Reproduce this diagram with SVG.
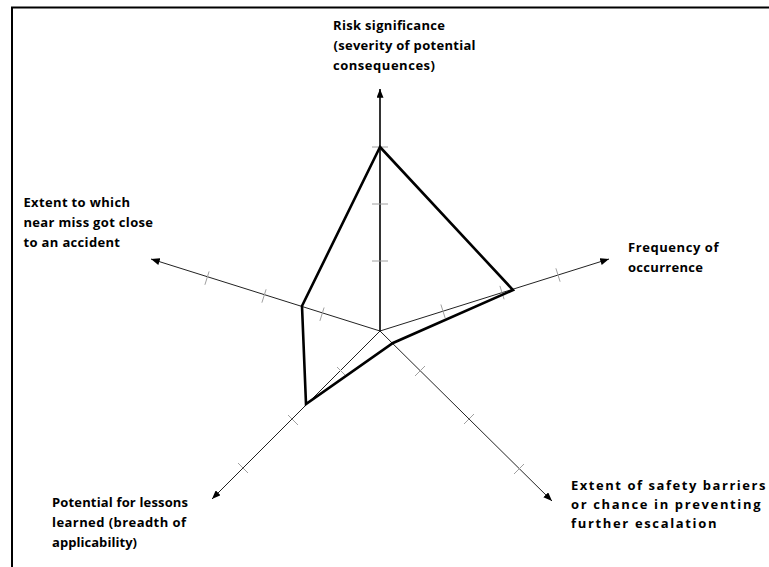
<svg xmlns="http://www.w3.org/2000/svg" width="769" height="567" viewBox="0 0 769 567">
  <defs>
    <marker id="arrow" viewBox="0 0 10 8" refX="10" refY="4" markerWidth="9" markerHeight="7" markerUnits="userSpaceOnUse" orient="auto">
      <path d="M0,0 L10,4 L0,8 Z" fill="#000"/>
    </marker>
    <style>
      .frame { fill: none; stroke: #000; stroke-width: 2; }
      .axis { fill: none; stroke: #222; stroke-width: 1; marker-end: url(#arrow); }
      .axis-main { fill: none; stroke: #000; stroke-width: 1.6; marker-end: url(#arrow); }
      .tick { stroke: #a0a0a0; stroke-width: 1; }
      .profile { fill: none; stroke: #000; stroke-width: 2.6; stroke-linejoin: miter; }
      .label { font-family: "Open Sans", "Liberation Sans", Arial, sans-serif; font-size: 13px; font-weight: bold; fill: #000; }
    </style>
  </defs>

  <rect width="769" height="567" fill="#fff"/>
  <!-- frame (only top and left edges fall inside the canvas) -->
  <path class="frame" d="M12,568 V7.5 H770"/>

  <!-- radar axes, centred at (380,331) -->
  <g id="connectors">
    <line class="axis-main" x1="380" y1="331" x2="380" y2="89"/>
    <line class="axis" x1="380" y1="331" x2="609" y2="259"/>
    <line class="axis" x1="380" y1="331" x2="552" y2="501"/>
    <line class="axis" x1="380" y1="331" x2="212" y2="499"/>
    <line class="axis" x1="380" y1="331" x2="151" y2="259"/>

    <!-- scale ticks -->
    <g class="tick-marks">
      <line class="tick" x1="372" y1="147" x2="388" y2="147"/>
      <line class="tick" x1="372" y1="204" x2="388" y2="204"/>
      <line class="tick" x1="372" y1="261" x2="388" y2="261"/>

      <line class="tick" x1="440.9" y1="304.5" x2="445.1" y2="317.9"/>
      <line class="tick" x1="499.9" y1="285.9" x2="504.1" y2="299.3"/>
      <line class="tick" x1="555.9" y1="268.3" x2="560.1" y2="281.7"/>

      <line class="tick" x1="425" y1="366" x2="415" y2="376"/>
      <line class="tick" x1="474" y1="414" x2="464" y2="424"/>
      <line class="tick" x1="524" y1="464" x2="514" y2="474"/>

      <line class="tick" x1="337" y1="367" x2="347" y2="377"/>
      <line class="tick" x1="288" y1="415" x2="298" y2="425"/>
      <line class="tick" x1="238" y1="463" x2="248" y2="473"/>

      <line class="tick" x1="324.1" y1="307.5" x2="319.9" y2="320.9"/>
      <line class="tick" x1="266.1" y1="289.3" x2="261.9" y2="302.7"/>
      <line class="tick" x1="209.1" y1="271.4" x2="204.9" y2="284.8"/>
    </g>
  </g>

  <!-- assessed profile -->
  <g id="profile">
    <polygon class="profile" points="380,147 513,290 393,343 306,404 302,306"/>
  </g>

  <g id="risk-significance">
    <text class="label" x="333" y="30" textLength="112" lengthAdjust="spacing">Risk significance</text>
    <text class="label" x="333.5" y="50" textLength="142" lengthAdjust="spacing">(severity of potential</text>
    <text class="label" x="333" y="70" textLength="102" lengthAdjust="spacing">consequences)</text>
  </g>

  <g id="frequency">
    <text class="label" x="628" y="252" textLength="90.5" lengthAdjust="spacing">Frequency of</text>
    <text class="label" x="628" y="272" textLength="75" lengthAdjust="spacing">occurrence</text>
  </g>

  <g id="safety-barriers">
    <text class="label" x="571" y="490" textLength="194.5" lengthAdjust="spacing">Extent of safety barriers</text>
    <text class="label" x="571" y="509" textLength="189.5" lengthAdjust="spacing">or chance in preventing</text>
    <text class="label" x="571" y="528" textLength="145.5" lengthAdjust="spacing">further escalation</text>
  </g>

  <g id="lessons-learned">
    <text class="label" x="52" y="507" textLength="136" lengthAdjust="spacing">Potential for lessons</text>
    <text class="label" x="52" y="527" textLength="134" lengthAdjust="spacing">learned (breadth of</text>
    <text class="label" x="52" y="547" textLength="85" lengthAdjust="spacing">applicability)</text>
  </g>

  <g id="near-miss">
    <text class="label" x="23.5" y="207" textLength="106.5" lengthAdjust="spacing">Extent to which</text>
    <text class="label" x="23.5" y="227" textLength="129.5" lengthAdjust="spacing">near miss got close</text>
    <text class="label" x="23.5" y="247" textLength="96.5" lengthAdjust="spacing">to an accident</text>
  </g>
</svg>
